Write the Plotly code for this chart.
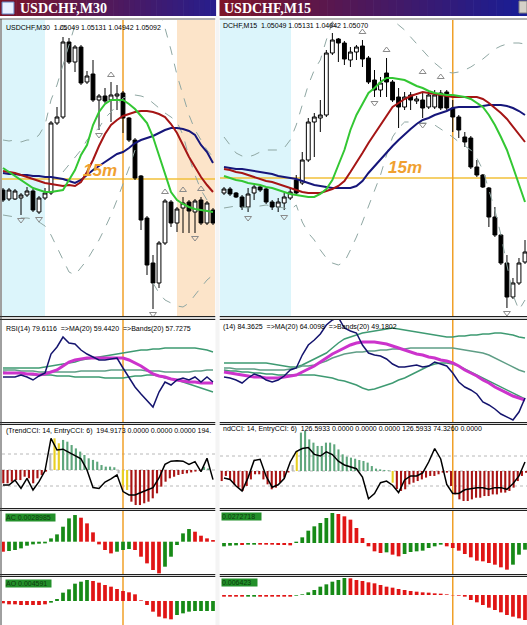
import plotly.graph_objects as go

W, H = 527, 625

# ======================= LEFT CHART : USDCHF,M30 =======================
L_open = [1.0489,1.0480,1.0480,1.0481,1.0484,1.0488,1.0467,1.0481,1.0486,1.0556,1.0562,1.0637,1.0617,1.0632,1.0597,1.0605,1.0579,1.0583,1.0579,1.0583,1.0586,1.0561,1.0539,1.0503,1.0461,1.0416,1.0396,1.0436,1.0477,1.0456,1.0471,1.0477,1.0467,1.0479,1.0456,1.0469]
L_high = [1.0491,1.0491,1.0490,1.0486,1.0492,1.0490,1.0483,1.0491,1.0558,1.0572,1.0642,1.0641,1.0634,1.0634,1.0608,1.0619,1.0585,1.0591,1.0597,1.0594,1.0588,1.0562,1.0541,1.0504,1.0463,1.0424,1.0438,1.0480,1.0479,1.0472,1.0482,1.0479,1.0480,1.0482,1.0478,1.0471]
L_low = [1.0477,1.0478,1.0479,1.0464,1.0482,1.0467,1.0465,1.0479,1.0484,1.0554,1.0560,1.0615,1.0607,1.0594,1.0595,1.0577,1.0549,1.0576,1.0557,1.0569,1.0546,1.0537,1.0499,1.0449,1.0404,1.0370,1.0391,1.0434,1.0452,1.0447,1.0446,1.0446,1.0446,1.0454,1.0454,1.0454]
L_close = [1.0479,1.0489,1.0488,1.0484,1.0488,1.0469,1.0481,1.0486,1.0556,1.0562,1.0637,1.0617,1.0632,1.0596,1.0603,1.0579,1.0583,1.0578,1.0584,1.0585,1.0561,1.0539,1.0501,1.0459,1.0414,1.0396,1.0436,1.0478,1.0456,1.0470,1.0476,1.0468,1.0478,1.0456,1.0476,1.0456]

L_ma_green = [1.0511,1.0507,1.0503,1.0499,1.0495,1.0491,1.0489,1.0487,1.0487,1.0488,1.0489,1.0499,1.0509,1.0524,1.0534,1.0554,1.0567,1.0575,1.0579,1.0579,1.0579,1.0575,1.0570,1.0563,1.0556,1.0542,1.0524,1.0507,1.0487,1.0479,1.0475,1.0472,1.0470,1.0469,1.0468,1.0467]
L_ma_red = [1.0508,1.0507,1.0506,1.0504,1.0502,1.0500,1.0498,1.0496,1.0495,1.0494,1.0493,1.0494,1.0493,1.0497,1.0507,1.0519,1.0533,1.0545,1.0554,1.0559,1.0563,1.0565,1.0567,1.0568,1.0568,1.0567,1.0565,1.0562,1.0555,1.0546,1.0534,1.0522,1.0512,1.0502,1.0494,1.0487]
L_ma_navy = [1.0506,1.0505,1.0505,1.0504,1.0504,1.0503,1.0503,1.0502,1.0502,1.0501,1.0500,1.0498,1.0496,1.0499,1.0504,1.0509,1.0513,1.0517,1.0521,1.0525,1.0527,1.0531,1.0536,1.0539,1.0541,1.0543,1.0546,1.0549,1.0551,1.0551,1.0550,1.0548,1.0544,1.0534,1.0527,1.0516]
L_band_up = [1.0539,1.0538,1.0539,1.0537,1.0539,1.0539,1.0544,1.0554,1.0579,1.0594,1.0614,1.0634,1.0654,1.0679] + [None]*11 + [1.0684,1.0669,1.0651,1.0629,1.0604,1.0584,1.0564,1.0549,1.0539,1.0529,1.0522]
L_band_mid = [None]*10 + [1.0507,1.0514,1.0521,1.0529,1.0539,1.0546,1.0551,1.0561,1.0567,1.0574,1.0581,1.0583,1.0584,1.0583,1.0581,1.0576,1.0571,1.0566,1.0562,1.0557,1.0544,1.0522,1.0504,1.0489,1.0479,1.0474]
L_band_low = [1.0464,1.0463,1.0462,1.0461,1.0461,1.0460,1.0457,1.0453,1.0444,1.0432,1.0419,1.0407,1.0404,1.0411,1.0419,1.0429,1.0439,1.0451,1.0464,1.0479,1.0494,1.0511,1.0529,None,None,1.0396,1.0386,1.0379,1.0376,1.0373,1.0372,1.0376,1.0384,1.0392,1.0399,1.0404]
L_frac_up_idx = [10, 18, 27, 30, 33]
L_frac_up_val = [1.0651, 1.0604, 1.0487, 1.0489, 1.0490]
L_frac_dn_idx = [3, 6, 16, 25, 32]
L_frac_dn_val = [1.0459, 1.0460, 1.0544, 1.0365, 1.0441]

L_rsi = [50.4,50.4,50.4,52,50.4,48,51.2,53.6,68.8,74.4,82.4,77.6,76.8,72,68.8,66.4,64,64,64.8,65.6,57.6,49.6,42.4,36.8,31.2,26.4,38.4,46.4,44,48,49.6,48,50.4,46.4,50.4,46.4]
L_rsi_ma = [53.6,53.6,53.6,53.6,52.8,52.8,52,52.8,54.4,56,59.2,62.4,64,64.8,65.6,65.6,65.6,65.6,65.6,65.6,65.6,64,61.6,59.2,56,52.8,51.2,50.4,48.8,48,47.2,46.4,46.4,45.6,45.6,45.6]
L_rsi_up = [57.6]*7 + [58.4,59.2,60,60.8,61.6,62.4,64,64.8,65.6,66.4,67.2,68,68.8,69.6,70.4,71.2,72,72,72.8,72.8,73.6,73.6,73.6,73.6,73.6,73.6,72.8,72,70.4]
L_rsi_mid = [56,56,56,55.2,55.2,55.2,54.4,54.4,54.4,54.4,54.4,54.4,54.4,55.2,55.2,55.2,55.2,55.2,56,56,56,56,56,56,55.2,55.2,55.2,54.4,54.4,54.4,54.4,54.4,55.2,55.2,56,56]
L_rsi_low = [54.4,53.6,53.6,52.8,52.8,52,52,52,52,51.2,51.2,51.2,50.4,50.4,50.4,50.4,50.4,49.6,49.6,49.6,49.6,50.4,51.2,51.2,52,52,51.2,49.6,48.8,48,46.4,44.8,43.2,41.6,40,38.4]

L_cci_hist = [-83,-83,-73,-63,-63,-42,-52,-83,-52,-31,-10,104,198,167,188,177,156,135,115,94,73,63,52,31,21,21,17,-21,-94,-125,-198,-219,-219,-208,-198,-177,-146,-104,-73,-52,-42,-31,-25,-21,-15,-10,-4,21,10]
L_cci_col = ['r']*11 + ['n'] + ['y']*2 + ['g']*13 + ['n'] + ['y']*2 + ['r']*17 + ['g']*2
L_cci_line = [-94,-94,-63,-115,-52,-125,-73,-5,198,125,130,110,95,70,0,-110,-115,-75,-55,-30,-135,-156,-156,-138,-125,-110,-50,35,55,58,55,35,52,-10,73,-60]

L_ac = [-0.0012,-0.00112,-0.001,-0.0008,-0.00048,-0.00032,-0.00024,-0.0002,0.0004,0.00088,0.0018,0.0028,0.0032,0.00288,0.0022,0.00112,-0.00032,-0.001,-0.0014,-0.0012,-0.001,-0.00088,-0.001,-0.0018,-0.0026,-0.0034,-0.0038,-0.003,-0.0018,-0.0004,0.001,0.00152,0.0012,0.00072,0.0004,0.0002]
L_ac_col = ['r'] + ['g']*12 + ['r']*6 + ['g']*3 + ['r']*5 + ['g']*5 + ['r']*4
L_ao = [-0.0007,-0.0010,-0.0010,-0.0012,-0.0012,-0.0012,-0.0012,-0.0010,-0.0005,0.0006,0.0025,0.0035,0.0052,0.0058,0.0063,0.0060,0.0055,0.0048,0.0043,0.0036,0.0030,0.0026,0.0020,0.0002,-0.0012,-0.0032,-0.0047,-0.0052,-0.0055,-0.0042,-0.0037,-0.0032,-0.0030,-0.0030,-0.0030,-0.0030]
L_ao_col = ['r']*8 + ['g']*7 + ['r']*14 + ['g']*7

# ======================= RIGHT CHART : USDCHF,M15 =======================
R_open = [1.0486,1.0490,1.0486,1.0482,1.0472,1.0486,1.0492,1.0490,1.0477,1.0472,1.0476,1.0481,1.0499,1.0496,1.0519,1.0557,1.0561,1.0564,1.0626,1.0640,1.0636,1.0619,1.0627,1.0633,1.0621,1.0599,1.0589,1.0606,1.0597,1.0582,1.0572,1.0584,1.0578,1.0579,1.0572,1.0572,1.0586,1.0587,1.0571,1.0562,1.0542,1.0541,1.0512,1.0504,1.0491,1.0462,1.0444,1.0416,1.0382,1.0396,1.0417]
R_high = [1.0492,1.0492,1.0487,1.0484,1.0491,1.0494,1.0493,1.0491,1.0479,1.0481,1.0486,1.0491,1.0504,1.0527,1.0561,1.0566,1.0579,1.0629,1.0646,1.0641,1.0638,1.0632,1.0634,1.0639,1.0623,1.0609,1.0602,1.0621,1.0599,1.0591,1.0587,1.0587,1.0583,1.0587,1.0587,1.0589,1.0589,1.0589,1.0579,1.0564,1.0547,1.0543,1.0519,1.0505,1.0492,1.0472,1.0445,1.0424,1.0401,1.0421,1.0439]
R_low = [1.0484,1.0483,1.0481,1.0469,1.0467,1.0479,1.0487,1.0475,1.0469,1.0467,1.0469,1.0479,1.0484,1.0494,1.0517,1.0522,1.0547,1.0562,1.0624,1.0617,1.0614,1.0612,1.0619,1.0612,1.0595,1.0582,1.0582,1.0582,1.0577,1.0551,1.0569,1.0569,1.0575,1.0561,1.0570,1.0570,1.0569,1.0569,1.0547,1.0541,1.0532,1.0510,1.0502,1.0491,1.0452,1.0442,1.0414,1.0371,1.0380,1.0394,1.0415]
R_close = [1.0490,1.0485,1.0482,1.0472,1.0485,1.0492,1.0489,1.0477,1.0472,1.0477,1.0482,1.0487,1.0486,1.0519,1.0557,1.0562,1.0564,1.0626,1.0639,1.0636,1.0620,1.0627,1.0632,1.0620,1.0597,1.0589,1.0596,1.0597,1.0579,1.0572,1.0582,1.0579,1.0580,1.0571,1.0584,1.0584,1.0571,1.0571,1.0562,1.0549,1.0537,1.0512,1.0504,1.0492,1.0462,1.0444,1.0416,1.0382,1.0396,1.0416,1.0427]

R_ma_green = [1.0503,1.0501,1.0499,1.0498,1.0496,1.0495,1.0494,1.0492,1.0491,1.0489,1.0487,1.0485,1.0484,1.0483,1.0482,1.0482,1.0485,1.0490,1.0499,1.0514,1.0529,1.0549,1.0564,1.0575,1.0586,1.0591,1.0597,1.0601,1.0601,1.0600,1.0599,1.0596,1.0593,1.0591,1.0588,1.0586,1.0585,1.0584,1.0584,1.0583,1.0582,1.0580,1.0576,1.0572,1.0564,1.0554,1.0542,1.0529,1.0512,1.0494,1.0477]
R_ma_red = [1.0510,1.0509,1.0507,1.0506,1.0504,1.0502,1.0500,1.0498,1.0497,1.0495,1.0493,1.0491,1.0489,1.0487,1.0486,1.0486,1.0486,1.0488,1.0490,1.0493,1.0498,1.0507,1.0516,1.0526,1.0536,1.0545,1.0554,1.0564,1.0572,1.0576,1.0580,1.0583,1.0585,1.0587,1.0586,1.0585,1.0584,1.0583,1.0582,1.0582,1.0582,1.0582,1.0582,1.0580,1.0576,1.0571,1.0566,1.0560,1.0552,1.0545,1.0537]
R_ma_navy = [1.0512,1.0511,1.0510,1.0510,1.0509,1.0508,1.0507,1.0506,1.0505,1.0503,1.0502,1.0501,1.0500,1.0498,1.0496,1.0494,1.0493,1.0492,1.0491,1.0491,1.0491,1.0491,1.0493,1.0498,1.0506,1.0513,1.0520,1.0527,1.0533,1.0539,1.0545,1.0550,1.0555,1.0559,1.0561,1.0564,1.0566,1.0568,1.0571,1.0572,1.0572,1.0572,1.0572,1.0573,1.0574,1.0574,1.0574,1.0573,1.0571,1.0568,1.0564]
R_band_up = [1.0542,1.0534,1.0526,1.0523,1.0522,1.0524,1.0527,1.0529,1.0529,1.0529,1.0531,1.0539,1.0554,1.0574,1.0594,1.0609,1.0619,1.0639,1.0656,1.0674] + [None]*7 + [1.0669,1.0659,1.0654,1.0649,1.0642,1.0635,1.0628,1.0622,1.0616,1.0611,1.0607,1.0606,1.0607,1.0609,1.0612,1.0616,1.0620,1.0625,1.0630,1.0633,1.0635,1.0636,1.0636,1.0635]
R_band_low = [1.0471,1.0472,1.0473,1.0472,1.0471,1.0472,1.0473,1.0474,1.0473,1.0472,1.0471,1.0469,1.0474,1.0457,1.0446,1.0439,1.0429,1.0421,1.0416,1.0414,1.0417,1.0429,1.0442,1.0457,1.0472,1.0487,1.0504,1.0524,1.0542,1.0551,1.0557,1.0557,1.0556,1.0556,1.0556,1.0554,1.0550,1.0546,1.0542,1.0537,1.0533,1.0529,1.0521,1.0509,1.0489,1.0469,1.0444,1.0414,1.0384,1.0369,1.0379]
R_frac_up_idx = [18, 23, 27, 33, 36]
R_frac_up_val = [1.0654, 1.0647, 1.0629, 1.0607, 1.0602]
R_frac_dn_idx = [4, 10, 25, 33, 47]
R_frac_dn_val = [1.0461, 1.0462, 1.0576, 1.0554, 1.0366]

R_rsi = [50.4,49.6,48,45.6,49.6,52.8,51.2,48,46.4,48,51.2,56,57.6,68,76,80,84.8,92,96,98,89.6,87.2,85.6,76,69.6,68,67.2,64.8,60.8,58.4,58.4,59.2,60,58.4,59.2,62.4,60.8,59.2,53.6,46.4,42.4,40,36.8,30.4,28,24.8,20.8,18.4,16,22.4,33.6]
R_rsi_ma = [54.4,53.6,52.8,52,51.2,50.4,50.4,49.6,49.6,49.6,50.4,51.2,52,54.4,56.8,59.2,62.4,65.6,68.8,71.2,73.6,76,77.6,78.4,78.4,78.4,77.6,76.8,75.2,73.6,72,70.4,68.8,68,66.4,65.6,64,63.2,61.6,59.2,56,53.6,51.2,48,45.6,42.4,40,37.6,35.2,33.6,32]
R_rsi_up = [61.6]*8 + [60.8,60,59.2,58.4,58.4,60,62.4,64.8,67.2,69.6,73.6,77.6,80.8,82.4,84,85.6,86.4,87.2,88,88.8,89.6,88.8,88,87.2,86.4,85.6,84.8,84,83.2,82.4,82.4,83.2,83.2,84,84,84.8,84.8,85.6,85.6,84.8,84,82.4,81.6]
R_rsi_mid = [57.6,57.6,56.8,56.8,56.8,56.8,56,56,56,56,56,56.8,57.6,59.2,59.2,60,61.6,63.2,65.6,67.2,68.8,69.6,70.4,70.4,71.2,71.2,72,72,72.8,72.8,72.8] + [73.6]*8 + [72.8,72,71.2,70.4,69.6,68,65.6,63.2,60.8,58.4,56,54.4]
R_rsi_low = [56,55.2,55.2,54.4,54.4,53.6,53.6,52.8,52.8,52,52,52,52,52,52,52,51.2,50.4,49.6,48,47.2,45.6,44,41.6,40,40.8,42.4,44,45.6,48,49.6,52,54.4,56.8,59.2,60.8,61.6,61.6,60.8,59.2,56.8,54.4,52,49.6,47.2,44.8,42.4,40,37.6,35.2,32.8]

R_cci_hist = [-67,-33,-56,-89,-111,-133,-100,-56,-22,-22,-56,-89,-122,-111,-78,-44,-10,40,133,256,267,211,189,167,167,189,189,178,144,111,96,89,82,73,67,56,33,16,11,7,4,-78,-120,-133,-122,-89,-78,-67,-56,-44,-33,-33,-22,-11,-11,-100,-156,-189,-200,-200,-189,-178,-178,-167,-167,-156,-156,-144,-144,-133,-111,-67,-33,-11]
R_cci_col = ['r']*17 + ['n'] + ['y'] + ['g']*22 + ['y'] + ['r']*32
R_cci_line = [-46,-56,-100,-133,-44,70,78,-35,-108,-92,-50,60,130,150,156,111,100,128,110,65,40,28,15,-40,-185,-150,-78,-67,-95,-144,-60,-33,-33,-13,60,150,80,-90,-150,-150,-125,-118,-111,-112,-122,-111,-111,-122,-85,-33,60]

R_ac = [-0.0004,-0.00032,-0.00028,-0.00024,-0.0002,-0.0002,-0.0002,-0.0002,-0.0002,-0.00024,-0.00024,-0.00028,0.00016,0.00068,0.00148,0.002,0.0024,0.003,0.0036,0.00348,0.0032,0.0028,0.0018,0.0006,-0.0004,-0.001,-0.0012,-0.00112,-0.0014,-0.0016,-0.00132,-0.00108,-0.001,-0.00092,-0.0006,-0.0004,-0.0002,-0.0004,-0.0006,-0.00092,-0.00132,-0.00172,-0.00212,-0.0022,-0.0024,-0.0026,-0.00292,-0.0032,-0.0026,-0.0014,-0.0008]
R_ac_col = ['g','g','g','r','g','g','r','r','r','r','r','r'] + ['g']*7 + ['r']*8 + ['g'] + ['r']*2 + ['g']*7 + ['r']*11 + ['g']*3
R_ao = [-0.0005]*12 + [-0.0002,0.0002,0.0008,0.0015,0.0025,0.0032,0.0040,0.0045,0.0051,0.0050,0.0045,0.0042,0.0038,0.0035,0.0030,0.0025,0.0022,0.0018,0.0015,0.0012,0.0010,0.0008,0.0007,0.0005,0.0004,0.0002,-0.0001,-0.0002,-0.0005,-0.0015,-0.0022,-0.0030,-0.0038,-0.0045,-0.0052,-0.0060,-0.0065,-0.0070,-0.0075]
R_ao_col = ['r','r','r','r','g','g','r','r','r','r','r','r'] + ['g']*9 + ['r']*30

# ======================= geometry / styling =======================
def px(x):
    return x / W

def py(y):
    return 1 - y / H

MAIN, RSI, CCI, ACP, AOP = (20, 316), (320, 422), (425, 508), (511, 574), (577, 625)
L_X0, L_X1, R_X0, R_X1 = 2, 215, 220, 527
L_C0, L_DC, R_C0, R_DC = 3.0, 6.0, 224.0, 6.02
L_H0, L_DH, R_H0, R_DH = 3.3, 4.27, 221.7, 4.17


def xr(x0, x1, c0, dc):
    return [(x0 - c0) / dc, (x1 - c0) / dc]


def price_at(y):
    return 1.0 + (679 - y) / 10000.0


def rsi_at(y):
    return 0.8 * (440 - y)


CANDLE_UP = dict(line=dict(color='black', width=1), fillcolor='white')
CANDLE_DN = dict(line=dict(color='black', width=1), fillcolor='black')
CCI_COLORS = {'r': '#a81414', 'g': '#5ea67c', 'y': '#e8cf24', 'n': '#b9b9b9'}
AC_COLORS = {'r': '#e01515', 'g': '#178a17'}

fig = go.Figure()


def add_chart(o, h, l, c, g, rd, nv, bands, fu_i, fu_v, fd_i, fd_v,
              rsi, rsi_ma, rsi_up, rsi_mid, rsi_low,
              cci_h, cci_c, cci_l, ac, ac_c, ao, ao_c, ax):
    xa, xh, xl = ax['xc'], ax['xh'], ax['xl']
    ym, yr, yc, ya, yo = ax['y']
    idx = list(range(len(o)))
    fig.add_trace(go.Candlestick(x=idx, open=o, high=h, low=l, close=c,
                                 increasing=CANDLE_UP, decreasing=CANDLE_DN,
                                 whiskerwidth=0, xaxis=xa, yaxis=ym, hoverinfo='skip'))
    for b in bands:
        fig.add_trace(go.Scatter(x=idx, y=b, mode='lines', xaxis=xa, yaxis=ym,
                                 line=dict(color='#8fa7a3', width=1, dash='dash'), connectgaps=False))
    for vals, col in ((nv, '#16167a'), (rd, '#a51515'), (g, '#33c733')):
        fig.add_trace(go.Scatter(x=idx, y=vals, mode='lines', xaxis=xa, yaxis=ym,
                                 line=dict(color=col, width=2)))
    fig.add_trace(go.Scatter(x=fu_i, y=fu_v, mode='markers', xaxis=xa, yaxis=ym,
                             marker=dict(symbol='triangle-up-open', size=6, color='#8a8a8a', line=dict(width=1))))
    fig.add_trace(go.Scatter(x=fd_i, y=fd_v, mode='markers', xaxis=xa, yaxis=ym,
                             marker=dict(symbol='triangle-down-open', size=6, color='#8a8a8a', line=dict(width=1))))
    # RSI window
    for vals, col, wd in ((rsi_up, '#3e9a72', 1.5), (rsi_mid, '#5f9e86', 1.5), (rsi_low, '#3e9a72', 1.5),
                          (rsi_ma, '#cc33cc', 3), (rsi, '#14146e', 1.5)):
        fig.add_trace(go.Scatter(x=idx, y=vals, mode='lines', xaxis=xa, yaxis=yr,
                                 line=dict(color=col, width=wd)))
    # CCI window
    hidx = list(range(len(cci_h)))
    fig.add_trace(go.Bar(x=hidx, y=cci_h, width=0.5, xaxis=xh, yaxis=yc,
                         marker=dict(color=[CCI_COLORS[k] for k in cci_c], line=dict(width=0))))
    fig.add_trace(go.Scatter(x=idx, y=cci_l, mode='lines', xaxis=xl, yaxis=yc,
                             line=dict(color='black', width=1.5)))
    # AC / AO windows
    fig.add_trace(go.Bar(x=idx, y=ac, width=0.62, xaxis=xa, yaxis=ya,
                         marker=dict(color=[AC_COLORS[k] for k in ac_c], line=dict(width=0))))
    fig.add_trace(go.Bar(x=idx, y=ao, width=0.62, xaxis=xa, yaxis=yo,
                         marker=dict(color=[AC_COLORS[k] for k in ao_c], line=dict(width=0))))


add_chart(L_open, L_high, L_low, L_close, L_ma_green, L_ma_red, L_ma_navy,
          [L_band_up, L_band_mid, L_band_low], L_frac_up_idx, L_frac_up_val, L_frac_dn_idx, L_frac_dn_val,
          L_rsi, L_rsi_ma, L_rsi_up, L_rsi_mid, L_rsi_low,
          L_cci_hist, L_cci_col, L_cci_line, L_ac, L_ac_col, L_ao, L_ao_col,
          dict(xc='x', xh='x2', xl='x5', y=('y', 'y2', 'y3', 'y4', 'y5')))
add_chart(R_open, R_high, R_low, R_close, R_ma_green, R_ma_red, R_ma_navy,
          [R_band_up, R_band_low], R_frac_up_idx, R_frac_up_val, R_frac_dn_idx, R_frac_dn_val,
          R_rsi, R_rsi_ma, R_rsi_up, R_rsi_mid, R_rsi_low,
          R_cci_hist, R_cci_col, R_cci_line, R_ac, R_ac_col, R_ao, R_ao_col,
          dict(xc='x3', xh='x4', xl='x6', y=('y6', 'y7', 'y8', 'y9', 'y10')))


def xax(x0, x1, rng, anchor, **kw):
    d = dict(domain=[px(x0), px(x1)], range=rng, visible=False, fixedrange=True,
             anchor=anchor, rangeslider=dict(visible=False))
    d.update(kw)
    return d


def yax(top, bot, rng, anchor):
    return dict(domain=[py(bot), py(top)], range=rng, visible=False, fixedrange=True, anchor=anchor)


L_xr = xr(L_X0, L_X1, L_C0, L_DC)
R_xr = xr(R_X0, R_X1, R_C0, R_DC)
layout = dict(
    width=W, height=H, autosize=False, margin=dict(l=0, r=0, t=0, b=0, pad=0),
    paper_bgcolor='white', plot_bgcolor='rgba(0,0,0,0)', showlegend=False,
    barmode='overlay', hovermode=False, boxgap=0.2, boxgroupgap=0.2,
    xaxis=xax(L_X0, L_X1, L_xr, 'y'),
    xaxis2=xax(L_X0, L_X1, xr(L_X0, L_X1, L_H0, L_DH), 'y3'),
    xaxis5=xax(L_X0, L_X1, L_xr, 'y3', overlaying='x2'),
    xaxis3=xax(R_X0, R_X1, R_xr, 'y6'),
    xaxis4=xax(R_X0, R_X1, xr(R_X0, R_X1, R_H0, R_DH), 'y8'),
    xaxis6=xax(R_X0, R_X1, R_xr, 'y8', overlaying='x4'),
    yaxis=yax(*MAIN, [price_at(MAIN[1]), price_at(MAIN[0])], 'x'),
    yaxis2=yax(*RSI, [rsi_at(RSI[1]), rsi_at(RSI[0])], 'x'),
    yaxis3=yax(*CCI, [-(CCI[1] - 470) * 6.25, (470 - CCI[0]) * 6.25], 'x2'),
    yaxis4=yax(*ACP, [-(ACP[1] - 541.7) * 0.00012, (541.7 - ACP[0]) * 0.00012], 'x'),
    yaxis5=yax(*AOP, [-(AOP[1] - 601) * 0.0003, (601 - AOP[0]) * 0.0003], 'x'),
    yaxis6=yax(*MAIN, [price_at(MAIN[1]), price_at(MAIN[0])], 'x3'),
    yaxis7=yax(*RSI, [rsi_at(RSI[1]), rsi_at(RSI[0])], 'x3'),
    yaxis8=yax(*CCI, [-(CCI[1] - 471) * 6.667, (471 - CCI[0]) * 6.667], 'x4'),
    yaxis9=yax(*ACP, [-(ACP[1] - 543) * 0.00012, (543 - ACP[0]) * 0.00012], 'x3'),
    yaxis10=yax(*AOP, [-(AOP[1] - 595) * 0.0003, (595 - AOP[0]) * 0.0003], 'x3'),
)

shapes = []


def rect(x0, y0, x1, y1, fill, layer='below', line=None):
    shapes.append(dict(type='rect', xref='paper', yref='paper', x0=px(x0), x1=px(x1),
                       y0=py(y1), y1=py(y0), fillcolor=fill, layer=layer,
                       line=line or dict(width=0)))


def hline(x0, x1, y, color, width=1, dash='solid', layer='below'):
    shapes.append(dict(type='line', xref='paper', yref='paper', x0=px(x0), x1=px(x1),
                       y0=py(y), y1=py(y), line=dict(color=color, width=width, dash=dash), layer=layer))


# shaded session zones in the price panels
rect(L_X0, MAIN[0], 45, MAIN[1], '#dcf5fb')
rect(177, MAIN[0], L_X1, MAIN[1], '#fce4c9')
rect(R_X0, MAIN[0], 291, MAIN[1], '#dcf5fb')

# CCI reference levels
for (x0, x1, yref) in ((L_X0, L_X1, 'y3'), (R_X0, R_X1, 'y8')):
    for lvl in (100, 0, -100):
        shapes.append(dict(type='line', xref='paper', yref=yref, x0=px(x0), x1=px(x1), y0=lvl, y1=lvl,
                           line=dict(color='#b8b8b8', width=1, dash='dot'), layer='below'))

# horizontal level line + vertical time marker
shapes.append(dict(type='line', xref='paper', yref='y', x0=px(L_X0), x1=px(L_X1), y0=1.0500, y1=1.0500,
                   line=dict(color='#f2c03a', width=1.6), layer='below'))
shapes.append(dict(type='line', xref='paper', yref='y6', x0=px(R_X0), x1=px(R_X1), y0=1.0501, y1=1.0501,
                   line=dict(color='#f2c03a', width=1.6), layer='below'))
shapes.append(dict(type='line', xref='x', yref='paper', x0=20, x1=20, y0=0, y1=py(MAIN[0]),
                   line=dict(color='#f0a028', width=1.5), layer='below'))
shapes.append(dict(type='line', xref='x3', yref='paper', x0=38, x1=38, y0=0, y1=py(MAIN[0]),
                   line=dict(color='#f0a028', width=1.5), layer='below'))

# panel separators
for (x0, x1) in ((0, 215.5), (219.5, 527)):
    for (a, b) in ((316, 320), (422, 425), (508, 511), (574, 577)):
        rect(x0, a, x1, b, '#d8d8d8', layer='above')
        hline(x0, x1, a + 0.5, '#202020', layer='above')
        hline(x0, x1, b - 0.5, '#202020', layer='above')
    hline(x0, x1, 19, '#606060', layer='above')
# chart frames
shapes.append(dict(type='line', xref='paper', yref='paper', x0=px(1), x1=px(1), y0=0, y1=py(19),
                   line=dict(color='#404040', width=1), layer='above'))
rect(215.5, 16, 219.5, 625, '#f4f4f4', layer='above')


# title bars (gradient maroon -> blue)
def gradient(x0, x1, c0, c1, n=40):
    step = (x1 - x0) / n
    for k in range(n):
        t = k / (n - 1)
        col = 'rgb(%d,%d,%d)' % tuple(int(c0[j] + (c1[j] - c0[j]) * t) for j in range(3))
        rect(x0 + k * step, 0, x0 + (k + 1) * step + 0.6, 16, col, layer='above')


gradient(0, 215.5, (125, 20, 40), (40, 30, 140))
gradient(219.5, 527, (125, 20, 40), (25, 30, 150))
rect(519, 1, 527, 13, '#d4d0c8', layer='above', line=dict(color='#808080', width=1))
rect(2, 2, 14, 14, '#e8f0ff', layer='above', line=dict(color='#6080c0', width=1))
layout['shapes'] = shapes

NB = '\u00a0'
ann = []


def text(x, y, s, size=7, color='black', family='Liberation Sans', anchor='left', bg=None):
    d = dict(xref='paper', yref='paper', x=px(x), y=py(y), text=s, showarrow=False,
             xanchor=anchor, yanchor='middle', font=dict(size=size, color=color, family=family))
    if bg:
        d.update(bgcolor=bg, borderpad=0)
    ann.append(d)


text(18, 8.5, '<b>USDCHF,M30</b>', size=14, color='white', family='Liberation Serif')
text(222, 8.5, '<b>USDCHF,M15</b>', size=14, color='white', family='Liberation Serif')
text(4, 27, 'USDCHF,M30' + NB * 2 + '1.05049 1.05131 1.04942 1.05092')
text(221, 25, 'DCHF,M15' + NB * 2 + '1.05049 1.05131 1.04942 1.05070')
text(4, 329, 'RSI(14) 79.6116' + NB * 2 + '=>MA(20) 59.4420' + NB * 2 + '=>Bands(20) 57.7275')
text(221, 327, '(14) 84.3625' + NB * 2 + '=>MA(20) 64.0098' + NB * 2 + '=>Bands(20) 49.1802')
text(4, 431, '(TrendCCI: 14, EntryCCI: 6)' + NB * 2 + '194.9173 0.0000 0.0000 0.0000 194.')
text(221, 429, 'ndCCI: 14, EntryCCI: 6)' + NB * 2 + '126.5933 0.0000 0.0000 0.0000 126.5933 74.3260 0.0000')
text(5, 517, 'AC 0.0028985' + NB * 2, color='#0c3c0c', bg='#23902a')
text(221, 516, '0.0272718' + NB * 3, color='#0c3c0c', bg='#23902a')
text(5, 583, 'AO 0.004591' + NB * 2, color='#0c3c0c', bg='#23902a')
text(221, 582, '0.006423' + NB * 3, color='#0c3c0c', bg='#23902a')
text(100, 170, '<b><i>15m</i></b>', size=17, color='#f0a030', anchor='center')
text(405, 168, '<b><i>15m</i></b>', size=17, color='#f0a030', anchor='center')
layout['annotations'] = ann

fig.update_layout(**layout)
fig.write_html('out.html', config=dict(displayModeBar=False, staticPlot=True))
